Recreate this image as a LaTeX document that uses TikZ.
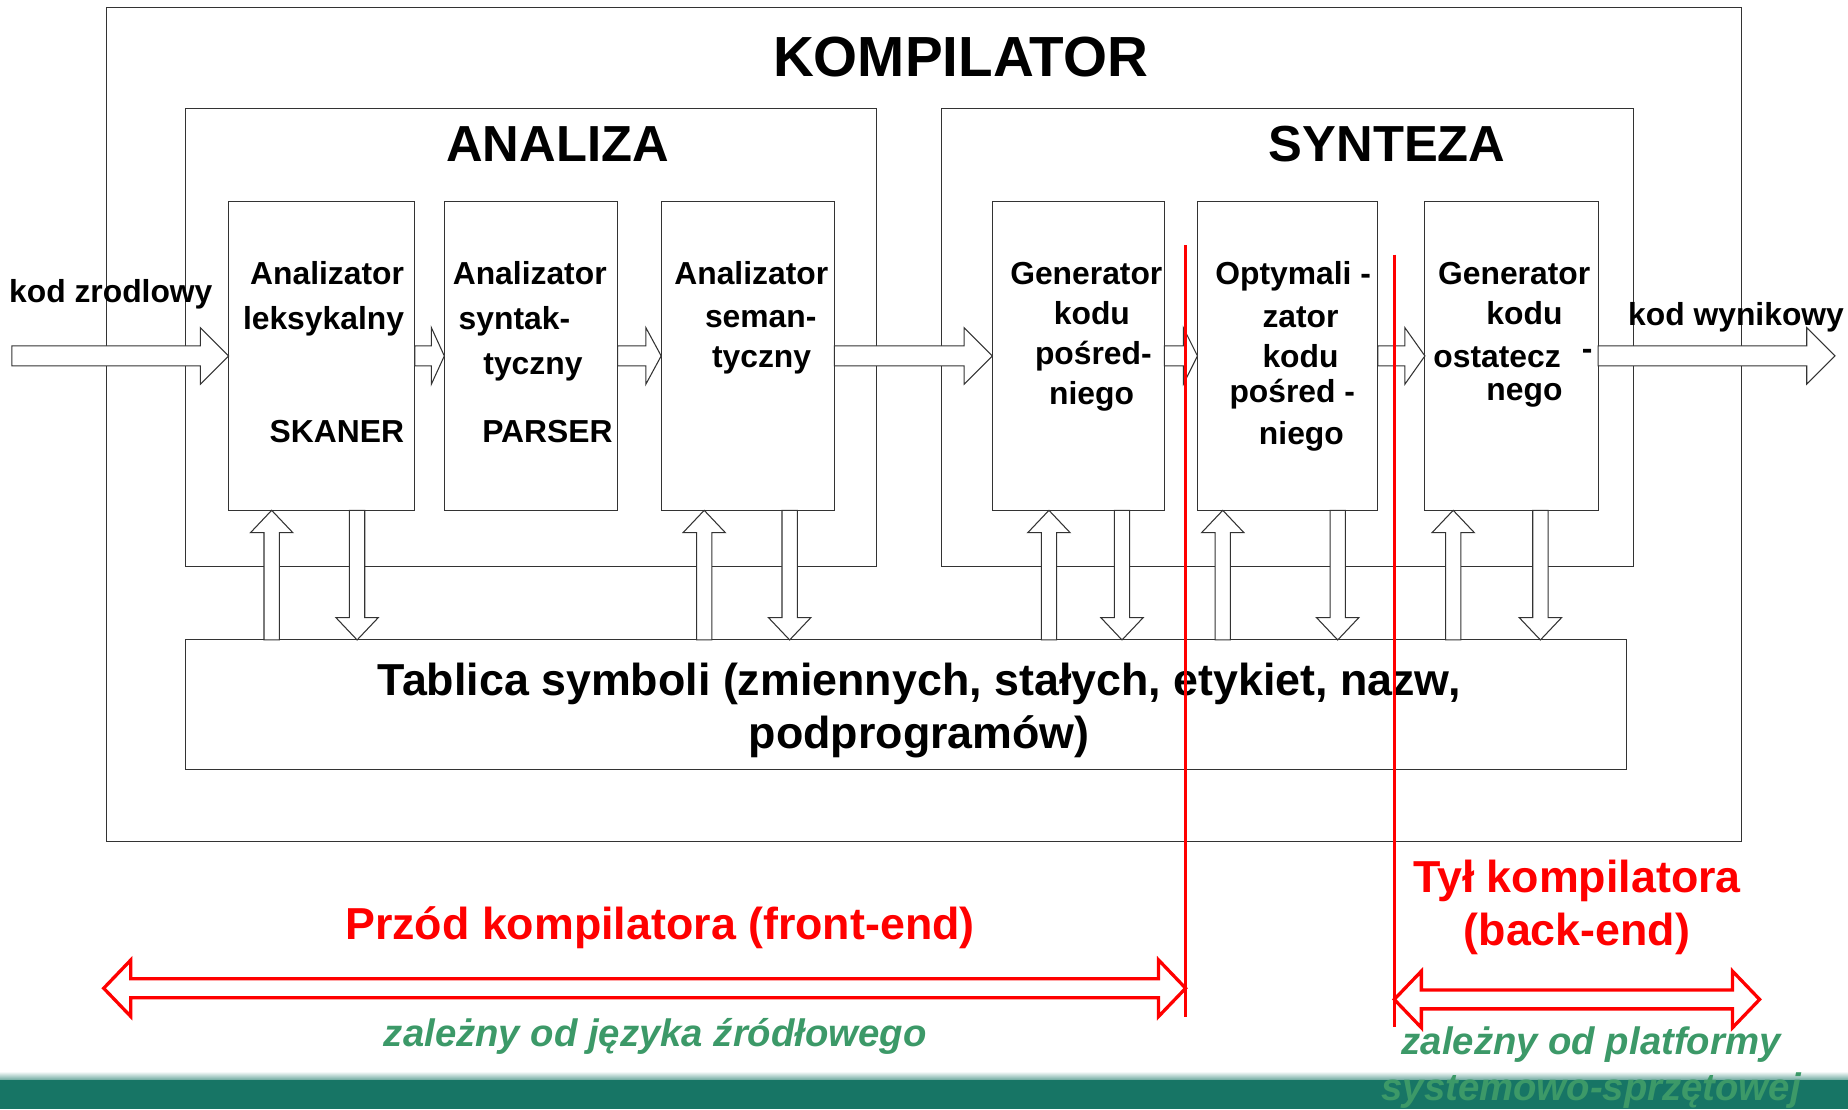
\documentclass[tikz,border=0pt]{standalone}
\usepackage{fontspec}
\setmainfont{Liberation Sans}
\usetikzlibrary{positioning,calc}

\definecolor{zielen}{RGB}{60,153,104}
\definecolor{pasek}{RGB}{23,117,101}

% gruba strzalka pozioma (obrys)
\newcommand{\strzalka}[3][24pt]{%
  \draw[obrys] let \p1=(#2), \p2=(#3) in
    (\x1,\y1+8.5pt) -- (\x2-#1,\y1+8.5pt) -- (\x2-#1,\y1+24pt) -- (\x2,\y1)
    -- (\x2-#1,\y1-24pt) -- (\x2-#1,\y1-8.5pt) -- (\x1,\y1-8.5pt) -- cycle;}
% strzalka z tablicy do bloku
\newcommand{\wgore}[2]{%
  \draw[obrys] let \p1=($(#1.south west)+(#2pt,0pt)$), \p2=(tablica.north) in
    (\x1-6.5pt,\y2) -- (\x1-6.5pt,\y1-19pt) -- (\x1-18pt,\y1-19pt) -- (\x1,\y1)
    -- (\x1+18pt,\y1-19pt) -- (\x1+6.5pt,\y1-19pt) -- (\x1+6.5pt,\y2) -- cycle;}
% strzalka z bloku do tablicy
\newcommand{\wdol}[2]{%
  \draw[obrys] let \p1=($(#1.south west)+(#2pt,0pt)$), \p2=(tablica.north) in
    (\x1-6.5pt,\y1) -- (\x1-6.5pt,\y2+19pt) -- (\x1-18pt,\y2+19pt) -- (\x1,\y2)
    -- (\x1+18pt,\y2+19pt) -- (\x1+6.5pt,\y2+19pt) -- (\x1+6.5pt,\y1) -- cycle;}
% czerwona strzalka w obie strony
\newcommand{\zakres}[2]{%
  \draw[czerwonaramka] let \p1=(#1), \p2=(#2) in
    (\x1,\y1) -- (\x1+23pt,\y1+24pt) -- (\x1+23pt,\y1+8pt) -- (\x2-23pt,\y1+8pt)
    -- (\x2-23pt,\y1+24pt) -- (\x2,\y1) -- (\x2-23pt,\y1-24pt) -- (\x2-23pt,\y1-8pt)
    -- (\x1+23pt,\y1-8pt) -- (\x1+23pt,\y1-24pt) -- cycle;}

\begin{document}
\begin{tikzpicture}[
    x=1pt, y=-1pt,
    ramka/.style={rectangle, draw=black!80, line width=0.9pt, inner sep=0pt, outer sep=0pt, anchor=north west},
    blok/.style={rectangle, draw=black!80, line width=0.9pt, inner sep=0pt, outer sep=0pt, minimum height=262pt},
    napis/.style={font=\fontsize{27}{34}\selectfont\bfseries, align=left, inner sep=0pt},
    tytul/.style={font=\fontsize{43}{50}\selectfont\bfseries, inner sep=0pt},
    opis/.style={font=\fontsize{27}{32}\selectfont\bfseries, inner sep=0pt},
    obrys/.style={draw=black!80, line width=0.9pt, fill=white},
    granica/.style={draw=red, line width=2.5pt},
    czerwonaramka/.style={draw=red, line width=2.8pt, line join=miter},
    czerwony/.style={font=\fontsize{38}{45}\selectfont\bfseries, text=red, align=center, inner sep=0pt},
    zielony/.style={font=\fontsize{32.5}{39}\selectfont\bfseries\itshape, text=zielen, align=center, inner sep=0pt}
]
\useasboundingbox (0,0) rectangle (1568,941);

% Ramki
\node[ramka, minimum width=1388pt, minimum height=708pt] (kompilator) at (90,6) {};
\node[ramka, minimum width=587pt, minimum height=389pt] (analiza) at (157,92) {};
\node[ramka, minimum width=587pt, minimum height=389pt] (synteza) at (799,92) {};
\node[ramka, minimum width=1223pt, minimum height=110pt] (tablica) at (157,543) {};

% Bloki
\node[blok, minimum width=158pt, anchor=north west] (skaner) at (194,171) {};
\node[blok, minimum width=147pt, right=25pt of skaner] (parser) {};
\node[blok, minimum width=147pt, right=37pt of parser] (semant) {};
\node[blok, minimum width=146pt, right=134pt of semant] (genpos) {};
\node[blok, minimum width=153pt, right=28pt of genpos] (optym) {};
\node[blok, minimum width=147pt, right=40pt of optym] (genost) {};

% Strzalki
\coordinate (wejscie) at (10,302);
\coordinate (wyjscie) at (1557,302);
\strzalka{wejscie}{skaner.west}
\strzalka[11pt]{skaner.east}{parser.west}
\strzalka[13pt]{parser.east}{semant.west}
\strzalka{semant.east}{genpos.west}
\strzalka[12pt]{genpos.east}{optym.west}
\strzalka[17pt]{optym.east}{genost.west}
\strzalka{genost.east}{wyjscie}

\foreach \blk/\up/\dn in {skaner/36.5/109, semant/36.5/109, genpos/48/110,
                          optym/21.5/119, genost/24/98} {
  \wgore{\blk}{\up}
  \wdol{\blk}{\dn}
}

% Tytuly
\node[tytul, font=\fontsize{48}{56}\selectfont\bfseries] (tkomp) at (815,48) {KOMPILATOR};
\node[tytul] (tanaliza) at (473,122) {ANALIZA};
\node[tytul] (tsynteza) at (1177,122) {SYNTEZA};

% Opisy blokow
\node[napis, align=right, anchor=north east, below left=51pt and 9pt of skaner.north east] (tskaner)
  {Analizator\\[4pt]leksykalny\\[62pt]SKANER};
\node[napis, anchor=north west, below right=51pt and 7pt of parser.north west] (tparser)
  {Analizator\\[4pt]\hspace*{5pt}syntak-\\[4pt]\hspace*{26pt}tyczny\\[24pt]\hspace*{25pt}PARSER};
\node[napis, anchor=north west, below right=51pt and 11pt of semant.north west] (tsemant)
  {Analizator\\[2pt]\hspace*{26pt}seman-\\\hspace*{32pt}tyczny};
\node[napis, anchor=north west, below right=51pt and 15pt of genpos.north west] (tgenpos)
  {Generator\\\hspace*{37pt}kodu\\\hspace*{21pt}pośred-\\\hspace*{33pt}niego};
\node[napis, anchor=north west, below right=51pt and 15pt of optym.north west] (toptym)
  {Optymali -\\[2pt]\hspace*{40pt}zator\\\hspace*{40pt}kodu\\[-4pt]\hspace*{12pt}pośred -\\[1pt]\hspace*{37pt}niego};
\node[napis, anchor=north west, below right=51pt and 7pt of genost.north west] (tgenost)
  {\hspace*{4pt}Generator\\\hspace*{45pt}kodu\\[3pt]ostatecz\hspace*{18pt}\raisebox{7pt}{-}\\[-6pt]\hspace*{45pt}nego};

\node[font=\fontsize{38}{45}\selectfont\bfseries, align=center, inner sep=0pt] (ttablica) at (780,603)
  {Tablica symboli (zmiennych, stałych, etykiet, nazw,\\podprogramów)};

\node[opis] (tzrodlo) at (94,250) {kod zrodlowy};
\node[opis] (twynik) at (1473,269) {kod wynikowy};

% Podzial kompilatora
\coordinate (g1a) at (1006,208);
\coordinate (g1b) at (1006,863);
\coordinate (g2a) at (1183,216);
\coordinate (g2b) at (1183,871);
\draw[granica] (g1a) -- (g1b);
\draw[granica] (g2a) -- (g2b);

\coordinate (fL) at (88,838.5);
\coordinate (bR) at (1493,848);
\zakres{fL}{g1a |- fL}
\zakres{g2a |- bR}{bR}

\node[czerwony] (tprzod) at (560,787) {Przód kompilatora (front-end)};
\node[czerwony] (ttyl) at (1338,770) {Tył kompilatora\\(back-end)};

% Pasek na dole
\shade[top color=white, bottom color=pasek!60] (0,909) rectangle (1568,916);
\fill[pasek] (0,916) rectangle (1568,941);

\node[zielony] (tjezyk) at (556,879) {zależny od języka źródłowego};
\node[zielony] (tplatforma) at (1350,905.5) {zależny od platformy\\systemowo-sprzętowej};

\end{tikzpicture}
\end{document}
